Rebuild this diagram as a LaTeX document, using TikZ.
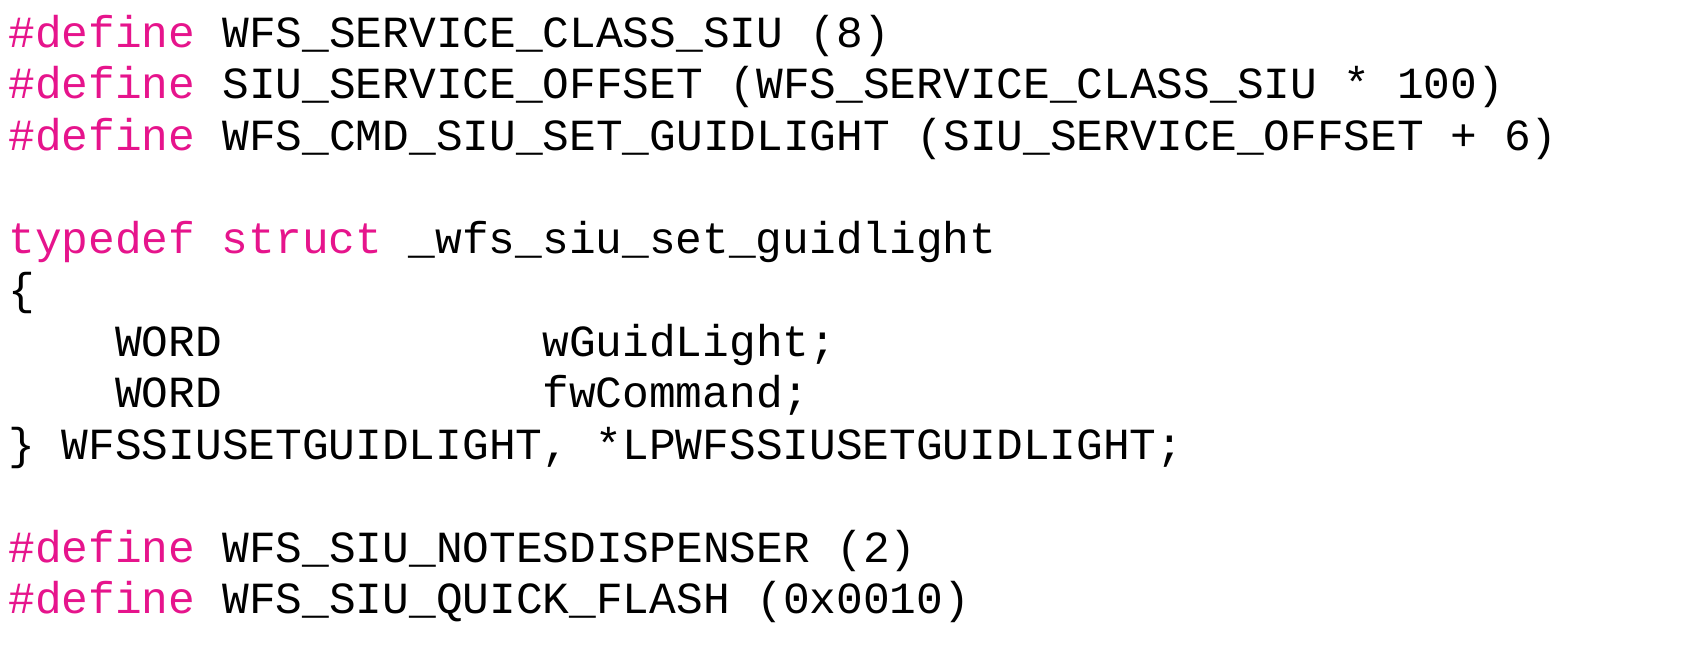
\documentclass[tikz,border=0pt]{standalone}
\usepackage{fontspec}
\setmainfont{Liberation Mono}
\definecolor{kw}{RGB}{230,20,140}
\tikzset{
  code/.style={anchor=base west, inner sep=0pt, font=\fontsize{22.25pt}{25pt}\selectfont},
  kwd/.style={code, text=kw}
}
\begin{document}
\begin{tikzpicture}[x=1pt,y=1pt]
		\useasboundingbox (0,0) rectangle (840.5,-334.5);		% Margens
		
		% Defines
		\node[kwd] (d1) at (4,-23.5) {\#define};
		\node[code] (n1) at (111,-23.5) {WFS\_SERVICE\_CLASS\_SIU (8)};
		\node[kwd] (d2) at (4,-49.25) {\#define};
		\node[code] (n2) at (111,-49.25) {SIU\_SERVICE\_OFFSET (WFS\_SERVICE\_CLASS\_SIU * 100)};
		\node[kwd] (d3) at (4,-75) {\#define};
		\node[code] (n3) at (111,-75) {WFS\_CMD\_SIU\_SET\_GUIDLIGHT (SIU\_SERVICE\_OFFSET + 6)};
		
		% Struct
		\node[kwd] (t1) at (4,-126.5) {typedef struct};
		\node[code] (s1) at (204.2,-126.5) {\_wfs\_siu\_set\_guidlight};
		\node[code] (b1) at (4,-152.25) {\{};
		\node[code] (w1) at (57.4,-178) {WORD};
		\node[code] (f1) at (271,-178) {wGuidLight;};
		\node[code] (w2) at (57.4,-203.75) {WORD};
		\node[code] (f2) at (271,-203.75) {fwCommand;};
		\node[code] (b2) at (4,-229.5) {\}};
		\node[code] (e1) at (30.7,-229.5) {WFSSIUSETGUIDLIGHT, *LPWFSSIUSETGUIDLIGHT;};
		
		% Defines finais
		\node[kwd] (d4) at (4,-281) {\#define};
		\node[code] (n4) at (111,-281) {WFS\_SIU\_NOTESDISPENSER (2)};
		\node[kwd] (d5) at (4,-306.75) {\#define};
		\node[code] (n5) at (111,-306.75) {WFS\_SIU\_QUICK\_FLASH (0x0010)};
	\end{tikzpicture}
\end{document}
